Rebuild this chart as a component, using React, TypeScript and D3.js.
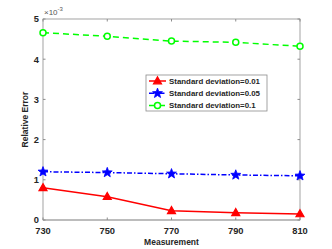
import React from "react";
import * as d3 from "d3";

const measurements = [730, 750, 770, 790, 810];
const sd001 = [0.8, 0.58, 0.23, 0.18, 0.15];
const sd005 = [1.2, 1.18, 1.15, 1.12, 1.1];
const sd01 = [4.66, 4.57, 4.45, 4.42, 4.32];
const yTicks = [0, 1, 2, 3, 4, 5];
const seriesNames = ["Standard deviation=0.01", "Standard deviation=0.05", "Standard deviation=0.1"];

const W = 332;
const H = 249;
const margin = { left: 43, right: 32, top: 19, bottom: 29 };

const starPath = (r: number) => {
  const pts: string[] = [];
  for (let i = 0; i < 10; i++) {
    const rr = i % 2 === 0 ? r : r * 0.42;
    const a = -Math.PI / 2 + (i * Math.PI) / 5;
    pts.push(`${(rr * Math.cos(a)).toFixed(2)},${(rr * Math.sin(a)).toFixed(2)}`);
  }
  return "M" + pts.join("L") + "Z";
};

const Marker = ({ kind, x, y }: { kind: number; x: number; y: number }) => {
  if (kind === 0) {
    return (
      <path
        d="M0,-4.2L4,2.8L-4,2.8Z"
        transform={`translate(${x},${y})`}
        fill="#ff0000"
        stroke="#ff0000"
        strokeWidth={1.2}
      />
    );
  }
  if (kind === 1) {
    return <path d={starPath(5.2)} transform={`translate(${x},${y})`} fill="#0000ff" stroke="#0000ff" strokeWidth={0.8} />;
  }
  return <circle cx={x} cy={y} r={3} fill="white" stroke="#00ff00" strokeWidth={1.5} />;
};

const App = () => {
  const x = d3.scaleLinear().domain([730, 810]).range([margin.left, W - margin.right]);
  const y = d3.scaleLinear().domain([0, 5]).range([H - margin.bottom, margin.top]);

  const line = d3
    .line<number>()
    .x((_, i) => x(measurements[i]))
    .y((d) => y(d));

  const series = [
    { values: sd001, color: "#ff0000", dash: "none" },
    { values: sd005, color: "#0000ff", dash: "5,2,1.5,2" },
    { values: sd01, color: "#00ff00", dash: "6,4" },
  ];

  const x0 = x(730);
  const x1 = x(810);
  const y0 = y(0);
  const y1 = y(5);
  const font = "Liberation Sans, Arial, sans-serif";

  const lg = { x: 146, y: 75, w: 121, h: 36 };

  return (
    <svg width={W} height={H} style={{ position: "absolute", left: 0, top: 0 }}>
      <rect width={W} height={H} fill="white" />
      {/* box */}
      <rect x={x0} y={y1} width={x1 - x0} height={y0 - y1} fill="none" stroke="#8c8c8c" strokeWidth={0.8} />
      <line x1={x0} x2={x1} y1={y0} y2={y0} stroke="#b4b4b4" strokeWidth={1.6} />
      {/* ticks */}
      {measurements.map((m) => (
        <g key={m}>
          <line x1={x(m)} x2={x(m)} y1={y0} y2={y0 - 2.5} stroke="#8c8c8c" />
          <line x1={x(m)} x2={x(m)} y1={y1} y2={y1 + 2.5} stroke="#8c8c8c" />
          <text x={x(m)} y={y0 + 14} textAnchor="middle" fontFamily={font} fontWeight="bold" fontSize={9.3} fill="#262626">
            {m}
          </text>
        </g>
      ))}
      {yTicks.map((t) => (
        <g key={t}>
          <line x1={x0} x2={x0 + 2.5} y1={y(t)} y2={y(t)} stroke="#8c8c8c" />
          <line x1={x1} x2={x1 - 2.5} y1={y(t)} y2={y(t)} stroke="#8c8c8c" />
          <text x={x0 - 4} y={y(t) + 3.3} textAnchor="end" fontFamily={font} fontWeight="bold" fontSize={9.3} fill="#262626">
            {t}
          </text>
        </g>
      ))}
      <text x={x0 + 1} y={15} fontFamily={font} fontSize={8} fill="#555">
        ×10
        <tspan dy={-4} fontSize={6}>-3</tspan>
      </text>
      <text
        transform={`translate(${28},${(y0 + y1) / 2}) rotate(-90)`}
        textAnchor="middle"
        fontFamily={font}
        fontWeight="bold"
        fontSize={8.5}
        fill="#262626"
      >
        Relative Error
      </text>
      <text x={(x0 + x1) / 2} y={245} textAnchor="middle" fontFamily={font} fontWeight="bold" fontSize={8.5} fill="#262626">
        Measurement
      </text>
      {/* series */}
      {series.map((s, k) => (
        <g key={k}>
          <path d={line(s.values) || ""} fill="none" stroke={s.color} strokeWidth={1.5} strokeDasharray={s.dash} />
          {s.values.map((v, i) => (
            <Marker key={i} kind={k} x={x(measurements[i])} y={y(v)} />
          ))}
        </g>
      ))}
      {/* legend */}
      <rect x={lg.x} y={lg.y} width={lg.w} height={lg.h} fill="white" stroke="#8c8c8c" strokeWidth={0.8} />
      {series.map((s, k) => {
        const ry = lg.y + 6 + k * 12.3;
        return (
          <g key={k}>
            <line x1={lg.x + 3} x2={lg.x + 20} y1={ry} y2={ry} stroke={s.color} strokeWidth={1.5} strokeDasharray={s.dash} />
            <Marker kind={k} x={lg.x + 11.5} y={ry} />
            <text x={lg.x + 23} y={ry + 2.8} fontFamily={font} fontWeight="bold" fontSize={7.9} fill="#262626">
              {seriesNames[k]}
            </text>
          </g>
        );
      })}
    </svg>
  );
};

export default App;
